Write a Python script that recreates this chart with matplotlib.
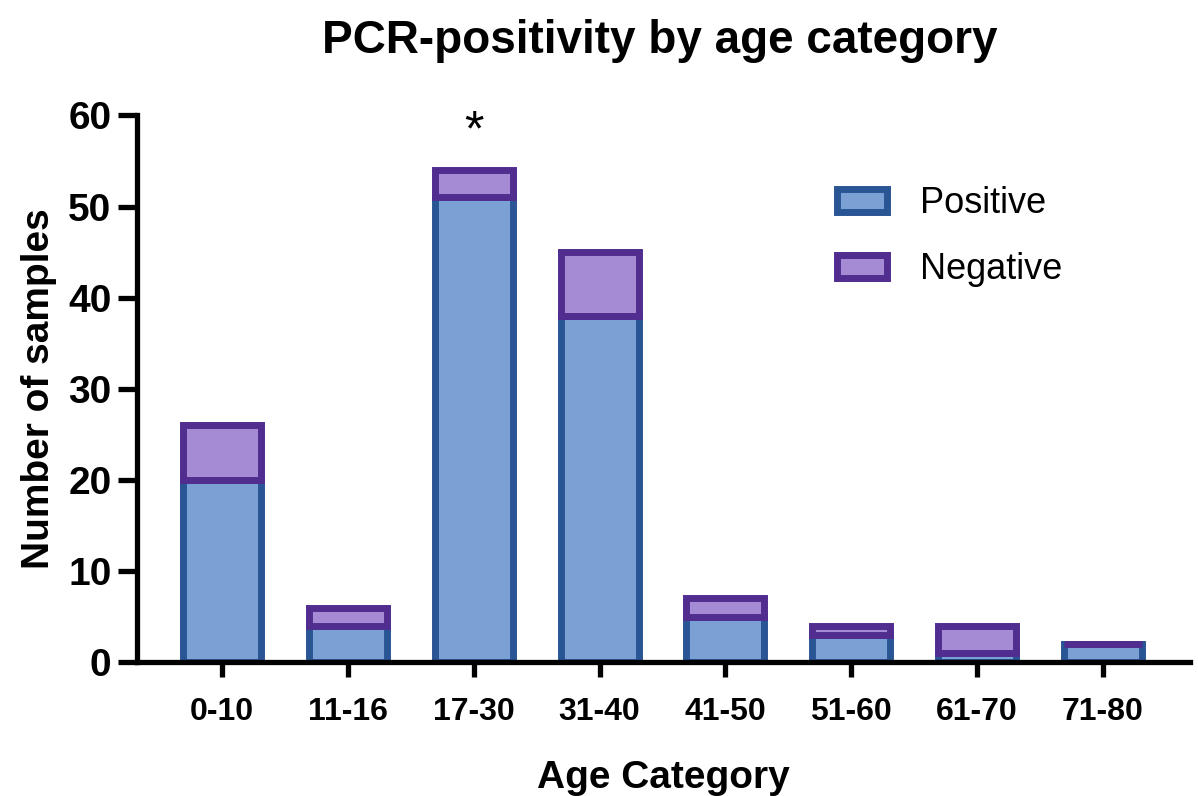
import matplotlib
matplotlib.use('Agg')
import matplotlib.pyplot as plt
from matplotlib.patches import Patch

# Data
categories = ['0-10', '11-16', '17-30', '31-40', '41-50', '51-60', '61-70', '71-80']
positive = [20, 4, 51, 38, 5, 3, 1, 2]
negative = [6, 2, 3, 7, 2, 1, 3, 0]
y_ticks = [0, 10, 20, 30, 40, 50, 60]

pos_fill, pos_edge = '#7BA0D4', '#2A5595'
neg_fill, neg_edge = '#A58BD4', '#512D8F'

plt.rcParams['font.family'] = ['Liberation Sans', 'DejaVu Sans']

fig = plt.figure(figsize=(11.98, 7.96), dpi=100)
ax = fig.add_axes([0.114, 0.168, 0.879, 0.687])

x = list(range(len(categories)))
ax.bar(x, positive, width=0.62, color=pos_fill, edgecolor=pos_edge, linewidth=5)
ax.bar(x, negative, width=0.62, bottom=positive, color=neg_fill, edgecolor=neg_edge, linewidth=5)

# significance marker above 17-30
ax.text(2, 55.6, '*', ha='center', va='bottom', fontsize=36, color='black')

ax.set_xlim(-0.68, 7.69)
ax.set_ylim(0, 60)
ax.set_yticks(y_ticks)
ax.set_xticks(x)
ax.set_xticklabels(categories, fontsize=23, fontweight='bold')
ax.set_yticklabels([str(v) for v in y_ticks], fontsize=28, fontweight='bold')

for side in ['top', 'right']:
    ax.spines[side].set_visible(False)
for side in ['left', 'bottom']:
    ax.spines[side].set_linewidth(3.8)
ax.tick_params(axis='y', length=14, width=3.8, pad=4)
ax.tick_params(axis='x', length=11, width=3.8, pad=14)

ax.set_xlabel('Age Category', fontsize=28, fontweight='bold', labelpad=24)
ax.set_ylabel('Number of samples', fontsize=28, fontweight='bold', labelpad=8)

fig.text(0.551, 0.948, 'PCR-positivity by age category', ha='center', va='center',
         fontsize=33, fontweight='bold')

handles = [Patch(facecolor=pos_fill, edgecolor=pos_edge, linewidth=5, label='Positive'),
           Patch(facecolor=neg_fill, edgecolor=neg_edge, linewidth=5, label='Negative')]
ax.legend(handles=handles, loc='upper left', bbox_to_anchor=(0.634, 0.93), frameon=False,
          fontsize=26, handlelength=1.4, handleheight=0.6, labelspacing=0.85, handletextpad=0.9)

fig.savefig('out.png', dpi=100)
